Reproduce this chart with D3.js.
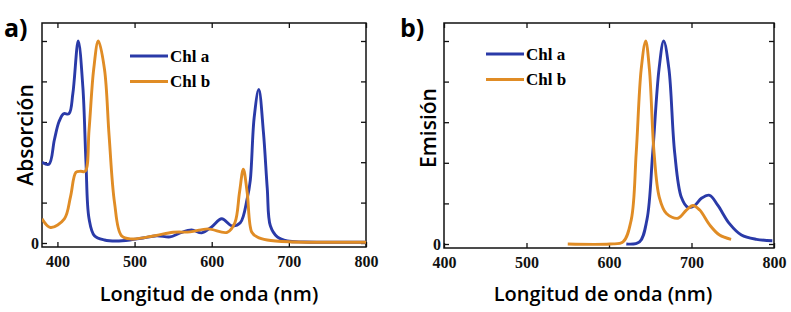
<!DOCTYPE html>
<html>
<head>
<meta charset="utf-8">
<title>Chl a / Chl b</title>
<style>
  body { margin: 0; background: #fff; }
  .lbl { font-family: "Open Sans", "Noto Sans", sans-serif; font-weight: 600; fill: #000; }
  .tick text { font-family: "Liberation Serif", serif; font-weight: bold; font-size: 16px; }
  .leg { font-family: "Liberation Serif", serif; font-weight: bold; font-size: 17px; }
</style>
</head>
<body>
<script src="https://d3js.org/d3.v7.min.js"></script>
<script>
// absorption spectra, panel a (wavelength nm, normalised)
var absWl_a = [380, 389, 396, 402, 408, 415, 420, 427, 433, 437, 441, 448, 461, 476, 494, 511, 529, 546, 559, 574, 587, 600, 613, 626, 637, 646, 650, 655, 661, 667, 672, 676, 685, 698, 720, 800];
var absVal_a = [0.40, 0.39, 0.51, 0.60, 0.64, 0.64, 0.74, 1.0, 0.77, 0.40, 0.12, 0.036, 0.015, 0.01, 0.015, 0.025, 0.036, 0.03, 0.05, 0.065, 0.05, 0.08, 0.12, 0.085, 0.10, 0.22, 0.31, 0.62, 0.76, 0.55, 0.27, 0.085, 0.03, 0.01, 0.005, 0.004];
var absWl_b = [380, 391, 409, 417, 424, 430, 436, 441, 447, 453, 461, 467, 474, 483, 496, 526, 550, 572, 595, 620, 630, 636, 641, 646, 652, 659, 672, 700, 800];
var absVal_b = [0.12, 0.077, 0.12, 0.23, 0.35, 0.355, 0.355, 0.56, 0.86, 1.0, 0.86, 0.53, 0.2, 0.036, 0.02, 0.036, 0.053, 0.055, 0.07, 0.053, 0.10, 0.25, 0.365, 0.25, 0.053, 0.03, 0.015, 0.006, 0.004];

// emission spectra, panel b
var emWl_a = [621, 637, 646, 653, 660.6, 666.3, 672.7, 679.6, 687.7, 695.8, 704, 712, 722, 732, 746, 760.5, 778.7, 798];
var emVal_a = [0, 0.01, 0.12, 0.45, 0.86, 1.0, 0.86, 0.45, 0.23, 0.18, 0.19, 0.225, 0.24, 0.19, 0.10, 0.044, 0.023, 0.016];
var emWl_b = [550, 601, 617, 627, 633, 639, 644.5, 649, 654.6, 661, 669.6, 683.6, 693.8, 701.8, 710, 722, 734, 748];
var emVal_b = [0, 0, 0.01, 0.12, 0.45, 0.86, 1.0, 0.86, 0.45, 0.23, 0.15, 0.127, 0.167, 0.19, 0.167, 0.094, 0.044, 0.023];

var xTicks = [400, 500, 600, 700, 800];
var yTicks = [0, 0.2, 0.4, 0.6, 0.8, 1.0];
var seriesNames = ["Chl a", "Chl b"];
var colors = ["#2a3aa8", "#e08c25"];

const W = 791, H = 312;
const svg = d3.select("body").append("svg").attr("width", W).attr("height", H);

function panel(opt) {
    var x = d3.scaleLinear().domain(opt.xDomain).range([opt.left, opt.right]);
    var y = d3.scaleLinear().domain([0, 1]).range([opt.zeroY, 41]);
    var g = svg.append("g");

    // frame
    g.append("rect")
        .attr("x", opt.left).attr("y", 23)
        .attr("width", opt.right - opt.left).attr("height", opt.bottom - 23)
        .attr("fill", "none").attr("stroke", "#111").attr("stroke-width", 1.5);

    // axes (ticks inward)
    g.append("g").attr("transform", "translate(0," + opt.bottom + ")")
        .call(d3.axisBottom(x).tickValues(xTicks).tickSizeInner(-5).tickSizeOuter(0).tickPadding(9));
    g.append("g").attr("transform", "translate(0,23)")
        .call(d3.axisTop(x).tickValues(xTicks).tickSizeInner(-5).tickSizeOuter(0).tickFormat(""));
    g.append("g").attr("transform", "translate(" + opt.left + ",0)")
        .call(d3.axisLeft(y).tickValues(yTicks).tickSizeInner(-5).tickSizeOuter(0).tickPadding(3)
            .tickFormat(function(d) { return d === 0 ? "0" : ""; }));
    g.append("g").attr("transform", "translate(" + opt.right + ",0)")
        .call(d3.axisRight(y).tickValues(yTicks).tickSizeInner(-5).tickSizeOuter(0).tickFormat(""));
    g.selectAll(".domain").remove();
    g.selectAll(".tick line").attr("stroke", "#111").attr("stroke-width", 1.3);
    g.selectAll(".tick text").attr("fill", "#111");

    var line = d3.line()
        .x(function(d) { return x(d[0]); })
        .y(function(d) { return y(d[1]); })
        .curve(d3.curveCatmullRom.alpha(0.5));

    g.append("defs").append("clipPath").attr("id", opt.id)
        .append("rect").attr("x", opt.left).attr("y", 23)
        .attr("width", opt.right - opt.left).attr("height", opt.bottom - 23);

    opt.series.forEach(function(s, i) {
        var pts = d3.zip(s[0], s[1]);
        g.append("path")
            .attr("d", line(pts))
            .attr("fill", "none")
            .attr("stroke", colors[i])
            .attr("stroke-width", 2.9)
            .attr("stroke-linejoin", "round")
            .attr("clip-path", "url(#" + opt.id + ")");
    });

    // legend
    seriesNames.forEach(function(n, i) {
        var ly = opt.legY + i * 25.5;
        g.append("line")
            .attr("x1", opt.legX).attr("x2", opt.legX + 38)
            .attr("y1", ly).attr("y2", ly)
            .attr("stroke", colors[i]).attr("stroke-width", 2.9);
        g.append("text").attr("class", "leg")
            .attr("x", opt.legX + 40).attr("y", ly + 5.5)
            .text(n);
    });

    // panel letter
    g.append("text").attr("class", "lbl")
        .attr("x", opt.letterX).attr("y", 37)
        .style("font-size", "25px").style("font-weight", 700)
        .text(opt.letter);

    // axis titles
    g.append("text").attr("class", "lbl")
        .attr("x", (opt.left + opt.right) / 2 + opt.xtOff).attr("y", 301)
        .attr("text-anchor", "middle")
        .style("font-size", "20px")
        .text("Longitud de onda (nm)");
    g.append("text").attr("class", "lbl")
        .attr("transform", "translate(" + opt.ytX + "," + opt.ytY + ") rotate(-90)")
        .attr("text-anchor", "middle")
        .style("font-size", "21px")
        .text(opt.yTitle);
}

panel({
    id: "clipA", xDomain: [380, 800], left: 42, right: 366, bottom: 247, zeroY: 243,
    series: [[absWl_a, absVal_a], [absWl_b, absVal_b]],
    legX: 130, legY: 56, letter: "a)", letterX: 4, xtOff: 5,
    yTitle: "Absorción", ytX: 33, ytY: 135
});
panel({
    id: "clipB", xDomain: [400, 800], left: 444, right: 774, bottom: 248, zeroY: 244,
    series: [[emWl_a, emVal_a], [emWl_b, emVal_b]],
    legX: 486, legY: 54, letter: "b)", letterX: 400, xtOff: -6,
    yTitle: "Emisión", ytX: 436, ytY: 128
});
</script>
</body>
</html>
